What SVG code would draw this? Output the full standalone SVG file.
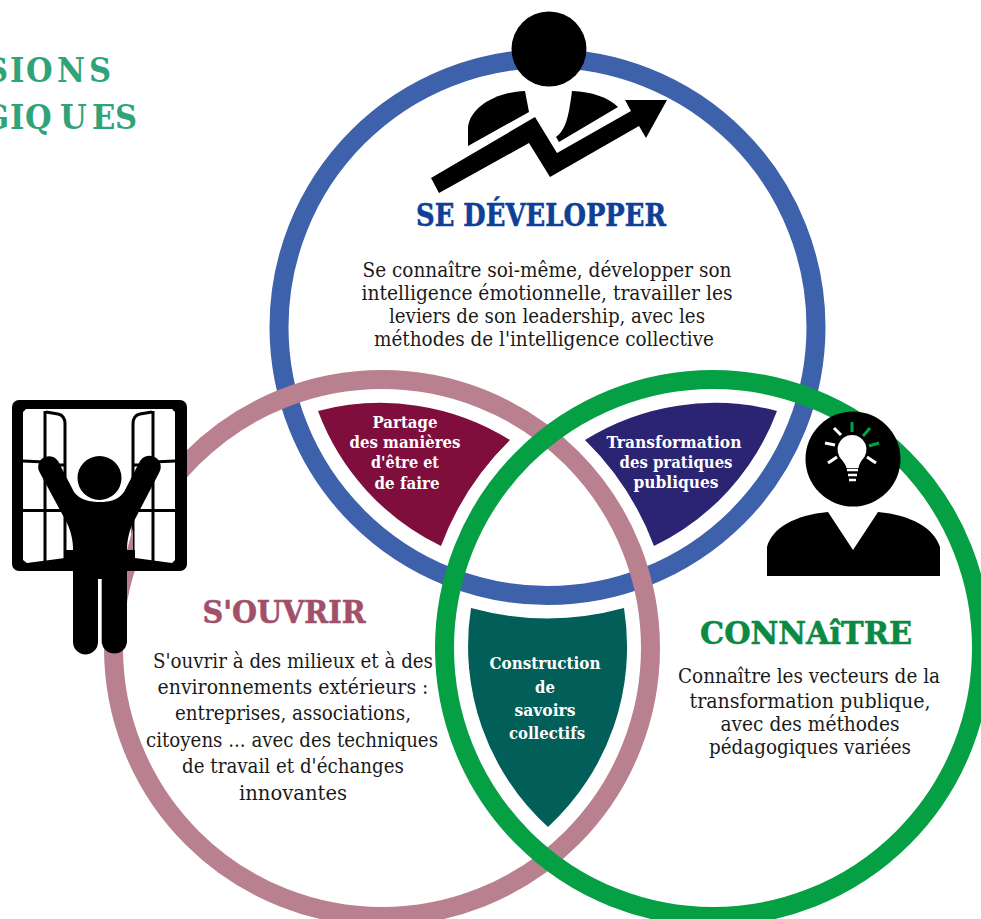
<svg xmlns="http://www.w3.org/2000/svg" width="981" height="919" viewBox="0 0 981 919">
<style>
text{font-family:"DejaVu Serif Condensed","DejaVu Serif",serif;text-anchor:middle}
.ring{fill:none;stroke-width:19}
.body{font-size:20px;fill:#1a1a1a}
.tag{font-size:16.5px;font-weight:700;fill:#fff}
.head{font-size:31px;font-weight:700;stroke-width:.5px}
.title{font-size:34px;font-weight:700;fill:#2fa37a;text-anchor:start}
.bar{stroke:#000;stroke-width:3;fill:none}
</style>
<rect width="981" height="919" fill="#fff"/>
<g id="title">
<text class="title" x="-14 10 26 57 89" y="82">SIONS</text>
<text class="title" x="-17 10 25 60 92 115" y="129">GIQUES</text>
</g>
<g id="connectors">
<circle class="ring" cx="547.5" cy="327" r="268.5" stroke="#3e61ab"/>
<circle class="ring" cx="382" cy="648" r="268.5" stroke="#b98090"/>
<circle class="ring" cx="713" cy="648" r="268.5" stroke="#05a044"/>
</g>
<g id="partage">
<path d="M318 411A245 245 0 0 1 510 440A291 291 0 0 0 441 546A245 245 0 0 1 318 411Z" fill="#7f0e3d"/>
<text class="tag" x="405" y="428" textLength="65" lengthAdjust="spacingAndGlyphs">Partage</text>
<text class="tag" x="405" y="448" textLength="111" lengthAdjust="spacingAndGlyphs">des manières</text>
<text class="tag" x="405" y="468" textLength="68" lengthAdjust="spacingAndGlyphs">d'être et</text>
<text class="tag" x="407" y="489" textLength="65" lengthAdjust="spacingAndGlyphs">de faire</text>
</g>
<g id="transformation">
<path d="M777 411A245 245 0 0 0 585 440A291 291 0 0 1 654 546A245 245 0 0 0 777 411Z" fill="#2b2473"/>
<text class="tag" x="674" y="448" textLength="135" lengthAdjust="spacingAndGlyphs">Transformation</text>
<text class="tag" x="676" y="468" textLength="113" lengthAdjust="spacingAndGlyphs">des pratiques</text>
<text class="tag" x="676" y="488" textLength="85" lengthAdjust="spacingAndGlyphs">publiques</text>
</g>
<g id="construction">
<path d="M471 608A291 291 0 0 0 624 608A245 245 0 0 1 548 827A245 245 0 0 1 471 608Z" fill="#025e59"/>
<text class="tag" x="545" y="669" textLength="111" lengthAdjust="spacingAndGlyphs">Construction</text>
<text class="tag" x="545" y="693">de</text>
<text class="tag" x="545" y="716" textLength="61" lengthAdjust="spacingAndGlyphs">savoirs</text>
<text class="tag" x="547" y="739" textLength="76" lengthAdjust="spacingAndGlyphs">collectifs</text>
</g>
<g id="se-developper">
<circle cx="549" cy="49" r="37.500"/>
<path d="M468 146V127C470 108 495 92 525 91L529 112Z"/>
<path d="M572 91C592 92 608 97 618 107L559 142L556 137C566 130 569 115 572 91Z"/>
<path d="M431 178L535 117L557 153L631 111L625 100L667 100L646 138L639 126L550 177L529 143L439 193Z"/>
<text class="head" x="541" y="226" fill="#0f3f96" stroke="#0f3f96" textLength="250" lengthAdjust="spacingAndGlyphs">SE DÉVELOPPER</text>
<text class="body" x="547" y="277" textLength="369" lengthAdjust="spacingAndGlyphs">Se connaître soi-même, développer son</text>
<text class="body" x="547" y="300" textLength="371" lengthAdjust="spacingAndGlyphs">intelligence émotionnelle, travailler les</text>
<text class="body" x="547" y="323" textLength="316" lengthAdjust="spacingAndGlyphs">leviers de son leadership, avec les</text>
<text class="body" x="544" y="346" textLength="340" lengthAdjust="spacingAndGlyphs">méthodes de l'intelligence collective</text>
</g>
<g id="s-ouvrir">
<rect x="12" y="400" width="175" height="171" rx="7"/>
<path d="M26 409H172L175 412V560L172 563L135 558V550H65V558L27 563L23 560V412Z" fill="#fff"/>
<path class="bar" d="M45 411V562M153 411V562M46 412L58 414C63 415 65 419 65 424V559M152 412L140 414C135 415 133 419 133 424V559M23 461L45 462M175 461L153 462M45 465H64M153 465H134M23 510.500H65M175 510.500H133"/>
<path d="M133 528V550H127Z" fill="#b98090"/>
<circle cx="99.500" cy="478" r="22"/>
<path d="M40 473A10.500 10.500 0 0 1 58 461L74 492C80 500 90 502 100 502C110 502 118 500 124 492L140 461A10.500 10.500 0 0 1 159 473L133 523C129 532 127 540 127 550V642A12.700 12.700 0 0 1 101.700 642V579H98V642A12.500 12.500 0 0 1 73 642V550C73 540 71 532 67 523Z"/>
<text class="head" x="284" y="623" fill="#a1506a" stroke="#a1506a" textLength="163" lengthAdjust="spacingAndGlyphs">S'OUVRIR</text>
<text class="body" x="293" y="668" textLength="280" lengthAdjust="spacingAndGlyphs">S'ouvrir à des milieux et à des</text>
<text class="body" x="293" y="694" textLength="271" lengthAdjust="spacingAndGlyphs">environnements extérieurs :</text>
<text class="body" x="293" y="720" textLength="236" lengthAdjust="spacingAndGlyphs">entreprises, associations,</text>
<text class="body" x="292" y="747" textLength="292" lengthAdjust="spacingAndGlyphs">citoyens ... avec des techniques</text>
<text class="body" x="293" y="773" textLength="222" lengthAdjust="spacingAndGlyphs">de travail et d'échanges</text>
<text class="body" x="293" y="800" textLength="108" lengthAdjust="spacingAndGlyphs">innovantes</text>
</g>
<g id="connaitre">
<circle cx="853" cy="459" r="47.500"/>
<path d="M767 576V547C772 528 795 515 828 512L853 550L878 512C911 515 934 528 940 547V576Z"/>
<path d="M852 435A14.500 14.500 0 0 1 862 460C860 463 859 465 858.500 468H846.500C846 465 844 463 842 460A14.500 14.500 0 0 1 852 435Z" fill="#fff"/>
<path d="M847 470H858M848 475H857M849 480H856" stroke="#fff" stroke-width="2.500"/>
<g stroke-width="3" fill="none">
<path d="M834 428L841 435M825 443L835 445M828 463L837 457M876 463L867 457" stroke="#fff"/>
<path d="M852 422L852 432M870 428L863 436M879 443L869 446" stroke="#05a044"/>
</g>
<text class="head" x="806" y="644" fill="#0a8a44" stroke="#0a8a44" textLength="212" lengthAdjust="spacingAndGlyphs">CONNAîTRE</text>
<text class="body" x="809" y="683" textLength="262" lengthAdjust="spacingAndGlyphs">Connaître les vecteurs de la</text>
<text class="body" x="810" y="708" textLength="241" lengthAdjust="spacingAndGlyphs">transformation publique,</text>
<text class="body" x="810" y="731" textLength="179" lengthAdjust="spacingAndGlyphs">avec des méthodes</text>
<text class="body" x="810" y="754" textLength="202" lengthAdjust="spacingAndGlyphs">pédagogiques variées</text>
</g>
</svg>
